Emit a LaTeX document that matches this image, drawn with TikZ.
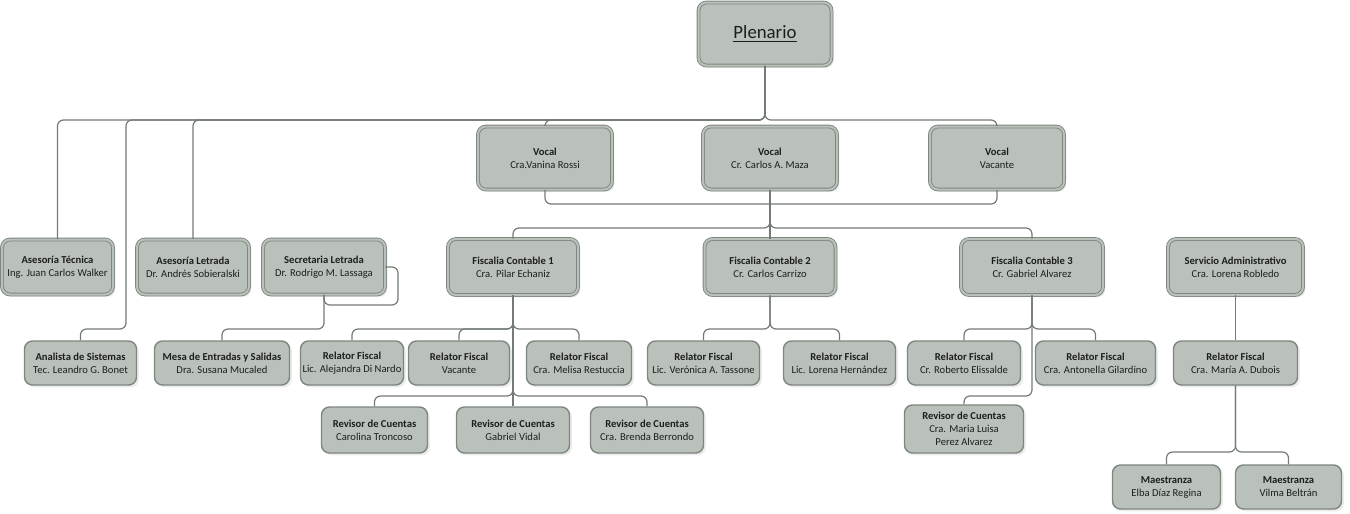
\documentclass[tikz,border=0pt]{standalone}
\usepackage{fontspec}
\setmainfont{Carlito}
\usetikzlibrary{shadows}
\definecolor{cajafill}{HTML}{B9C1BA}
\definecolor{borde}{HTML}{7E8680}
\definecolor{linea}{HTML}{737B75}
\definecolor{texto}{HTML}{1E1E1E}
\newcommand{\puesto}[2]{\textbf{#1}\\#2}
\tikzset{
  base/.style={rounded corners=4pt, fill=cajafill, text=texto, align=center, inner sep=0pt,
    font=\fontsize{5.3}{6.5}\selectfont,
    drop shadow={shadow xshift=1.2pt, shadow yshift=-1.2pt, fill=black!15}},
  jefe/.style={base, draw=borde, line width=0.45pt, double=cajafill, double distance=1pt},
  cargo/.style={base, draw=borde, line width=0.7pt},
  link/.style={draw=linea, line width=0.6pt, rounded corners=3pt},
  wd/.style={minimum width=#1*0.5pt},
  ht/.style={minimum height=#1*0.5pt}
}
\begin{document}
\begin{tikzpicture}[x=0.5pt,y=-0.5pt]
\useasboundingbox (0,0) rectangle (1350,514);

%Plenario
\node[jefe, wd=133, ht=63, font=\fontsize{9.4}{11}\selectfont] (plen) at (765,34) {\underline{Plenario}};

%Vocales
\node[jefe, wd=134, ht=63] (v1) at (545,158) {\puesto{Vocal}{Cra.Vanina Rossi}};
\node[jefe, wd=134, ht=63] (v2) at (770,158) {\puesto{Vocal}{Cr. Carlos A. Maza}};
\node[jefe, wd=134, ht=63] (v3) at (997,158) {\puesto{Vocal}{Vacante}};

%Asesorias y secretaria
\node[jefe, wd=111, ht=55] (at) at (57.5,267) {\puesto{Asesoría Técnica}{Ing. Juan Carlos Walker}};
\node[jefe, wd=112, ht=55] (al) at (193,267) {\puesto{Asesoría Letrada}{Dr. Andrés Sobieralski}};
\node[jefe, wd=122, ht=55] (sec) at (324,267) {\puesto{Secretaria Letrada}{Dr. Rodrigo M. Lassaga}};

%Fiscalias
\node[jefe, wd=130, ht=56] (f1) at (513,267) {\puesto{Fiscalia Contable 1}{Cra. Pilar Echaniz}};
\node[jefe, wd=131, ht=56] (f2) at (770,267) {\puesto{Fiscalia Contable 2}{Cr. Carlos Carrizo}};
\node[jefe, wd=142, ht=56] (f3) at (1032,267) {\puesto{Fiscalia Contable 3}{Cr. Gabriel Alvarez}};

%Servicio administrativo
\node[jefe, wd=135, ht=56] (sa) at (1235.5,267) {\puesto{Servicio Administrativo}{Cra. Lorena Robledo}};

%Tercer nivel
\node[cargo, wd=112, ht=44] (an) at (80.5,363) {\puesto{Analista de Sistemas}{Tec. Leandro G. Bonet}};
\node[cargo, wd=135, ht=44] (mesa) at (222,363) {\puesto{Mesa de Entradas y Salidas}{Dra. Susana Mucaled}};
\node[cargo, wd=103, ht=44] (rf1a) at (352,363) {\puesto{Relator Fiscal}{Lic. Alejandra Di Nardo}};
\node[cargo, wd=101, ht=44] (rf1b) at (459,363) {\puesto{Relator Fiscal}{Vacante}};
\node[cargo, wd=105, ht=44] (rf1c) at (579,363) {\puesto{Relator Fiscal}{Cra. Melisa Restuccia}};
\node[cargo, wd=112, ht=44] (rf2a) at (703.5,363) {\puesto{Relator Fiscal}{Lic. Verónica A. Tassone}};
\node[cargo, wd=112, ht=44] (rf2b) at (839.5,363) {\puesto{Relator Fiscal}{Lic. Lorena Hernández}};
\node[cargo, wd=113, ht=44] (rf3a) at (964,363) {\puesto{Relator Fiscal}{Cr. Roberto Elissalde}};
\node[cargo, wd=120, ht=44] (rf3b) at (1095.5,363) {\puesto{Relator Fiscal}{Cra. Antonella Gilardino}};
\node[cargo, wd=124, ht=44] (rf4) at (1235.5,363) {\puesto{Relator Fiscal}{Cra. María A. Dubois}};

%Revisores de cuentas
\node[cargo, wd=106, ht=46] (rc1a) at (374.5,430) {\puesto{Revisor de Cuentas}{Carolina Troncoso}};
\node[cargo, wd=113, ht=46] (rc1b) at (513,430) {\puesto{Revisor de Cuentas}{Gabriel Vidal}};
\node[cargo, wd=113, ht=46] (rc1c) at (647,430) {\puesto{Revisor de Cuentas}{Cra. Brenda Berrondo}};
\node[cargo, wd=119, ht=48] (rc3) at (964,429) {\textbf{Revisor de Cuentas}\\Cra. Maria Luisa\\Perez Alvarez};

%Maestranza
\node[cargo, wd=108, ht=44] (m1) at (1166.5,487) {\puesto{Maestranza}{Elba Díaz Regina}};
\node[cargo, wd=106, ht=44] (m2) at (1288.5,487) {\puesto{Maestranza}{Vilma Beltrán}};

%niveles de las barras
\coordinate (b1) at (0,120);
\coordinate (b2) at (0,204);
\coordinate (b3) at (0,228);
\coordinate (b4) at (0,329);
\coordinate (b5) at (0,396);
\coordinate (b6) at (0,452);
\coordinate (kan) at (126,329);
\coordinate (ksec) at (398,305);

%Plenario a sus dependencias
\draw[link] (plen.south) -- (plen.south |- b1) -| (at.north);
\draw[link] (plen.south) -- (plen.south |- b1) -| (kan) -| (an.north);
\draw[link] (plen.south) -- (plen.south |- b1) -| (al.north);
\draw[link] (plen.south) -- (plen.south |- b1) -| (v1.north);
\draw[link] (plen.south) -- (plen.south |- b1) -| (v3.north);

%Vocales a fiscalias
\draw[link] (v1.south) |- (v2.south |- b2) -| (v3.south);
\draw[link] (v2.south) -- (v2.south |- b3) -| (f1.north);
\draw[link] (v2.south) -- (f2.north);
\draw[link] (v2.south) -- (v2.south |- b3) -| (f3.north);

%Secretaria
\draw[link] (sec.east) -| (ksec) -| (sec.south);
\draw[link] (sec.south) -- (sec.south |- b4) -| (mesa.north);

%Fiscalia 1
\draw[link] (f1.south) -- (f1.south |- b4) -| (rf1a.north);
\draw[link] (f1.south) -- (f1.south |- b4) -| (rf1b.north);
\draw[link] (f1.south) -- (f1.south |- b4) -| (rf1c.north);
\draw[link] (f1.south) -- (f1.south |- b5) -| (rc1a.north);
\draw[link] (f1.south) -- (rc1b.north);
\draw[link] (f1.south) -- (f1.south |- b5) -| (rc1c.north);

%Fiscalia 2
\draw[link] (f2.south) -- (f2.south |- b4) -| (rf2a.north);
\draw[link] (f2.south) -- (f2.south |- b4) -| (rf2b.north);

%Fiscalia 3
\draw[link] (f3.south) -- (f3.south |- b4) -| (rf3a.north);
\draw[link] (f3.south) -- (f3.south |- b4) -| (rf3b.north);
\draw[link] (f3.south) -- (f3.south |- b5) -| (rc3.north);

%Servicio administrativo
\draw[link] (sa.south) -- (rf4.north);
\draw[link] (rf4.south) -- (rf4.south |- b6) -| (m1.north);
\draw[link] (rf4.south) -- (rf4.south |- b6) -| (m2.north);

\end{tikzpicture}
\end{document}
